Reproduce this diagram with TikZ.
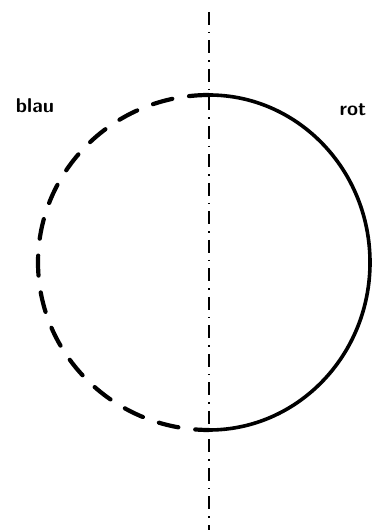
\documentclass[tikz,border=0pt]{standalone}
\usepackage{tikz}
\usetikzlibrary{positioning}

\tikzset{
  halfsolid/.style={line width=3.6pt, line cap=round},
  halfdashed/.style={line width=4.2pt, line cap=round, dash pattern=on 20pt off 17pt},
  axisline/.style={line width=2.4pt, dash pattern=on 13pt off 7pt on 1.5pt off 7pt},
  colorlabel/.style={font=\sffamily\bfseries\fontsize{20}{20}\selectfont, inner sep=0pt}
}

\begin{document}
\begin{tikzpicture}[x=1pt, y=1pt]
\useasboundingbox (0,0) rectangle (372,530);
\coordinate (axtop) at (209,518);
\coordinate (axbot) at (209,0);
\coordinate (circtop) at (209,435);
\coordinate (circbot) at (209,100);

% symmetry axis
\draw[axisline] (axtop) -- (axbot);

% the two halves
\draw[halfsolid] (circtop) arc[start angle=90, end angle=-90, x radius=161, y radius=167.5];
\draw[halfdashed] (circtop) arc[start angle=90, end angle=270, x radius=171, y radius=167.5];

\node[colorlabel] (blau) at (35,424) {blau};
\node[colorlabel] (rot) at (353,420) {rot};
\end{tikzpicture}
\end{document}
